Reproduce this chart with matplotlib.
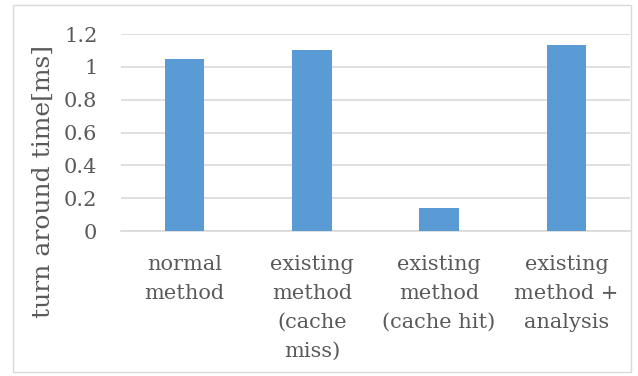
import matplotlib
matplotlib.use("Agg")
import matplotlib.pyplot as plt
from matplotlib.patches import Rectangle

categories = ["normal\nmethod", "existing\nmethod\n(cache\nmiss)", "existing\nmethod\n(cache hit)", "existing\nmethod +\nanalysis"]
values = [1.05, 1.10, 0.14, 1.13]
yticks = [0, 0.2, 0.4, 0.6, 0.8, 1.0, 1.2]
ytick_labels = ["0", "0.2", "0.4", "0.6", "0.8", "1", "1.2"]

text_color = "#595959"
bar_color = "#5b9bd5"
grid_color = "#d9d9d9"
font = "DejaVu Serif"

fig = plt.figure(figsize=(6.38, 3.76), dpi=100)
ax = fig.add_axes([121/638, 1-231/376, (630-121)/638, (231-34)/376])

x = list(range(len(categories)))
ax.bar(x, values, width=0.31, color=bar_color, zorder=3)
ax.set_xlim(-0.5, 3.5)
ax.set_ylim(0, 1.2)
ax.set_yticks(yticks)
ax.set_yticklabels(ytick_labels, fontfamily=font, fontsize=15, color=text_color)
ax.set_xticks(x)
ax.set_xticklabels(categories, fontfamily=font, fontsize=15, color=text_color, linespacing=1.68, va="top")
ax.tick_params(axis="both", length=0)
ax.tick_params(axis="y", pad=17)
ax.tick_params(axis="x", pad=17)
ax.grid(axis="y", color=grid_color, linewidth=1.2, zorder=0)
for s in ["top", "right", "left"]:
    ax.spines[s].set_visible(False)
ax.spines["bottom"].set_color(grid_color)
ax.spines["bottom"].set_linewidth(1.2)

fig.text(43/638, 1-181/376, "turn around time[ms]", rotation=90, ha="center", va="center",
         rotation_mode="anchor", fontfamily=font, fontsize=18, color=text_color)

fig.patches.append(Rectangle((13/638, 1-372/376), (631-13)/638, (372-5)/376,
                             transform=fig.transFigure, fill=False, edgecolor="#d9d9d9", linewidth=1))

fig.savefig("out.png", dpi=100)
